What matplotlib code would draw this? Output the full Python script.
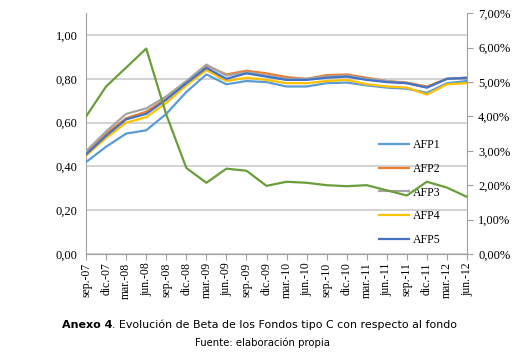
import matplotlib
matplotlib.use('Agg')
import matplotlib.pyplot as plt
import matplotlib.ticker as ticker

# Quarterly dates
periods = ['sep.-07', 'dic.-07', 'mar.-08', 'jun.-08', 'sep.-08', 'dic.-08', 'mar.-09',
           'jun.-09', 'sep.-09', 'dic.-09', 'mar.-10', 'jun.-10', 'sep.-10', 'dic.-10',
           'mar.-11', 'jun.-11', 'sep.-11', 'dic.-11', 'mar.-12', 'jun.-12']

# Beta of each AFP (left axis)
afp1 = [0.42, 0.49, 0.55, 0.565, 0.64, 0.74, 0.82, 0.775, 0.79, 0.785,
        0.765, 0.765, 0.78, 0.783, 0.77, 0.76, 0.755, 0.736, 0.78, 0.79]
afp2 = [0.465, 0.55, 0.62, 0.65, 0.71, 0.785, 0.86, 0.82, 0.837, 0.825,
        0.808, 0.80, 0.817, 0.82, 0.805, 0.79, 0.783, 0.765, 0.80, 0.805]
afp3 = [0.47, 0.56, 0.64, 0.665, 0.72, 0.79, 0.865, 0.815, 0.83, 0.815,
        0.80, 0.80, 0.81, 0.815, 0.80, 0.79, 0.78, 0.76, 0.80, 0.80]
afp4 = [0.45, 0.53, 0.60, 0.625, 0.69, 0.77, 0.84, 0.79, 0.805, 0.795,
        0.78, 0.78, 0.79, 0.795, 0.775, 0.765, 0.76, 0.728, 0.775, 0.78]
afp5 = [0.455, 0.54, 0.615, 0.64, 0.705, 0.78, 0.85, 0.80, 0.825, 0.81,
        0.795, 0.795, 0.805, 0.81, 0.795, 0.785, 0.78, 0.76, 0.80, 0.805]

# Green series on the right axis (percent)
green = [4.0, 4.87, 5.42, 5.97, 4.05, 2.5, 2.07, 2.48, 2.42, 1.98,
         2.1, 2.07, 2.0, 1.97, 2.0, 1.85, 1.7, 2.1, 1.93, 1.66]

names = ['AFP1', 'AFP2', 'AFP3', 'AFP4', 'AFP5']
colors = ['#5B9BD5', '#ED7D31', '#A5A5A5', '#FFC000', '#4472C4']

fig = plt.figure(figsize=(5.25, 3.55), dpi=100)
ax = fig.add_axes([0.164, 0.2845, 0.7255, 0.6785])
x = list(range(len(periods)))

for vals, name, c in zip([afp1, afp2, afp3, afp4, afp5], names, colors):
    ax.plot(x, vals, color=c, lw=1.6, label=name, zorder=3)

ax.set_xlim(0, len(periods) - 1)
ax.set_ylim(0, 1.1)
ax.set_yticks([0, 0.2, 0.4, 0.6, 0.8, 1.0])
ax.yaxis.set_major_formatter(ticker.FuncFormatter(lambda v, p: f'{v:.2f}'.replace('.', ',')))
ax.grid(axis='y', color='#D0D0D0', lw=1.3, zorder=0)
ax.set_xticks(x)
ax.set_xticklabels(periods, rotation=90, family='Liberation Serif', fontsize=8.5)
for lab in ax.get_yticklabels():
    lab.set_family('Liberation Serif')
    lab.set_fontsize(9)
ax.tick_params(axis='y', length=0, pad=6)
ax.tick_params(axis='x', length=4, color='#A0A0A0', pad=2)
for s in ['top', 'right']:
    ax.spines[s].set_visible(False)
for s in ['left', 'bottom']:
    ax.spines[s].set_color('#A0A0A0')

ax2 = ax.twinx()
ax2.plot(x, [g / 100 for g in green], color='#6A9E3A', lw=1.6, zorder=4)
ax2.set_ylim(0, 0.07)
ax2.set_yticks([i / 100 for i in range(8)])
ax2.yaxis.set_major_formatter(ticker.FuncFormatter(lambda v, p: f'{v * 100:.2f}%'.replace('.', ',')))
for lab in ax2.get_yticklabels():
    lab.set_family('Liberation Serif')
    lab.set_fontsize(9)
ax2.tick_params(axis='y', length=4, color='#A0A0A0', pad=4)
for s in ['top', 'left', 'bottom']:
    ax2.spines[s].set_visible(False)
ax2.spines['right'].set_color('#A0A0A0')

leg = ax.legend(loc='upper left', bbox_to_anchor=(0.74, 0.52), frameon=False,
                prop={'family': 'Liberation Serif', 'size': 8.5}, labelspacing=0.98,
                handlelength=2.6, handletextpad=0.3)

# Caption
fig.canvas.draw()
t1 = fig.text(62 / 525, 1 - 325 / 355, 'Anexo 4', fontsize=8, fontweight='bold',
              family='Liberation Sans Narrow', va='center')
fig.canvas.draw()
bb = t1.get_window_extent()
fig.text(bb.x1 / 525, 1 - 325 / 355, '. Evolución de Beta de los Fondos tipo C con respecto al fondo',
         fontsize=7.9, family='DejaVu Sans', va='center')
fig.text(0.5, 1 - 343 / 355, 'Fuente: elaboración propia', fontsize=7.3,
         family='DejaVu Sans', ha='center', va='center')

fig.savefig('out.png', dpi=100)
